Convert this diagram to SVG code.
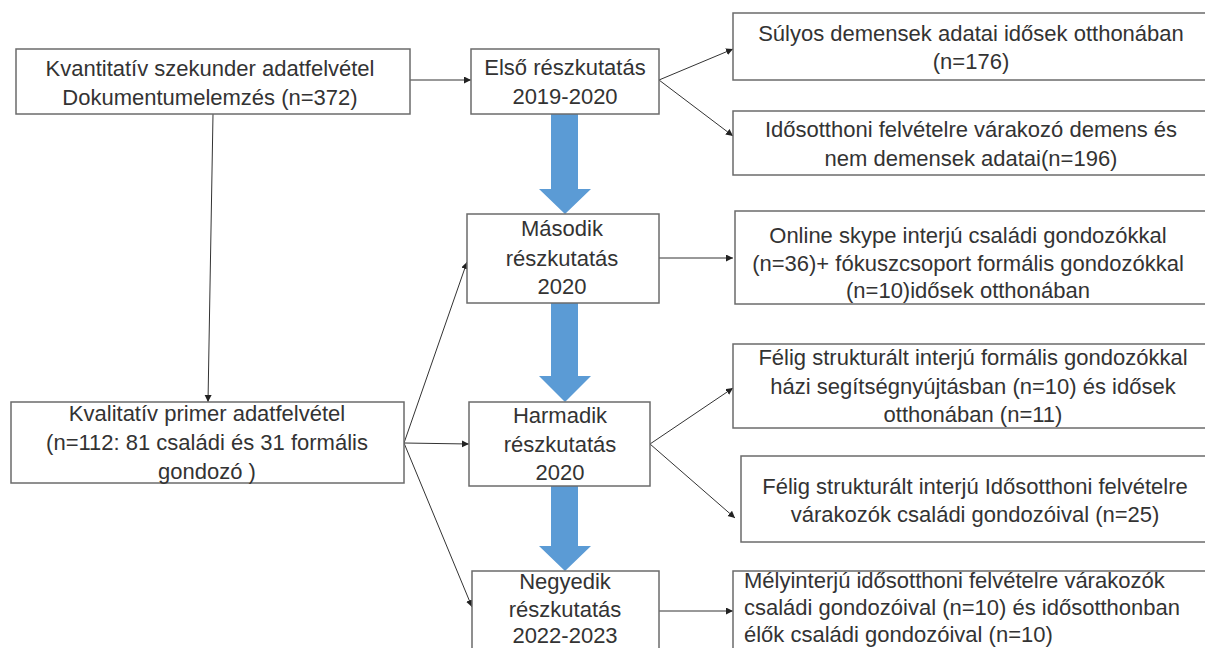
<svg xmlns="http://www.w3.org/2000/svg" width="1205" height="648" viewBox="0 0 1205 648">
<style>
.box{fill:#fff;stroke:#6b6b6b;stroke-width:1.5}
.t{font-family:"Liberation Sans",Arial,sans-serif;font-size:22px;fill:#333;text-anchor:middle}
.tl{text-anchor:start}
.c{stroke:#333;stroke-width:1;fill:none;marker-end:url(#ah)}
.big{fill:#5b9bd5}
</style>
<defs>
<marker id="ah" markerUnits="userSpaceOnUse" markerWidth="8" markerHeight="8" refX="7" refY="3.5" orient="auto">
<path d="M0,0 L7,3.5 L0,7 z" fill="#222"/>
</marker>
</defs>
<rect width="1205" height="648" fill="#fff"/>
<g id="connectors">
<path class="c" d="M410,80 L471,80"/>
<path class="c" d="M659,80 L733,49"/>
<path class="c" d="M659,80 L733,136"/>
<path class="c" d="M659,258 L733,258"/>
<path class="c" d="M650,444 L733,388"/>
<path class="c" d="M650,444 L735,518"/>
<path class="c" d="M659,611 L733,611"/>
<path class="c" d="M213,114 L208,402"/>
<path class="c" d="M404,443 L467,262"/>
<path class="c" d="M404,443 L469,444"/>
<path class="c" d="M404,443 L472,607"/>
<path class="big" d="M551,114 L578,114 L578,189 L591,189 L565,214 L539,189 L551,189 z"/>
<path class="big" d="M551,303 L578,303 L578,376 L591,376 L565,402 L539,376 L551,376 z"/>
<path class="big" d="M551,486 L578,486 L578,546 L591,546 L565,571 L539,546 L551,546 z"/>
</g>
<g id="kvantitativ">
<rect class="box" x="16" y="49" width="394" height="65"/>
<text class="t" x="210" y="76">Kvantitatív szekunder adatfelvétel</text>
<text class="t" x="210" y="105">Dokumentumelemzés (n=372)</text>
</g>
<g id="elso">
<rect class="box" x="471" y="49" width="188" height="65"/>
<text class="t" x="565" y="75">Első részkutatás</text>
<text class="t" x="565" y="104">2019-2020</text>
</g>
<g id="sulyos">
<rect class="box" x="733" y="13" width="480" height="67"/>
<text class="t" x="971" y="41">Súlyos demensek adatai idősek otthonában</text>
<text class="t" x="971" y="69">(n=176)</text>
</g>
<g id="idosotthoni">
<rect class="box" x="733" y="111" width="480" height="64"/>
<text class="t" x="971" y="137">Idősotthoni felvételre várakozó demens és</text>
<text class="t" x="971" y="166">nem demensek adatai(n=196)</text>
</g>
<g id="masodik">
<rect class="box" x="467" y="214" width="192" height="89"/>
<text class="t" x="562" y="236">Második</text>
<text class="t" x="562" y="266">részkutatás</text>
<text class="t" x="562" y="294">2020</text>
</g>
<g id="online">
<rect class="box" x="735" y="211" width="480" height="93"/>
<text class="t" x="968" y="243">Online skype interjú családi gondozókkal</text>
<text class="t" x="968" y="271">(n=36)+ fókuszcsoport formális gondozókkal</text>
<text class="t" x="968" y="298">(n=10)idősek otthonában</text>
</g>
<g id="kvalitativ">
<rect class="box" x="11" y="402" width="393" height="81"/>
<text class="t" x="207" y="421">Kvalitatív primer adatfelvétel</text>
<text class="t" x="207" y="450">(n=112: 81 családi és 31 formális</text>
<text class="t" x="207" y="479">gondozó )</text>
</g>
<g id="harmadik">
<rect class="box" x="469" y="402" width="181" height="84"/>
<text class="t" x="560" y="423">Harmadik</text>
<text class="t" x="560" y="452">részkutatás</text>
<text class="t" x="560" y="480">2020</text>
</g>
<g id="felig1">
<rect class="box" x="733" y="344" width="480" height="84"/>
<text class="t" x="973" y="365">Félig strukturált interjú formális gondozókkal</text>
<text class="t" x="973" y="394">házi segítségnyújtásban (n=10) és idősek</text>
<text class="t" x="973" y="422">otthonában (n=11)</text>
</g>
<g id="felig2">
<rect class="box" x="741" y="456" width="480" height="86"/>
<text class="t" x="975" y="494">Félig strukturált interjú Idősotthoni felvételre</text>
<text class="t" x="975" y="522">várakozók családi gondozóival (n=25)</text>
</g>
<g id="negyedik">
<rect class="box" x="472" y="571" width="187" height="90"/>
<text class="t" x="565" y="589">Negyedik</text>
<text class="t" x="565" y="617">részkutatás</text>
<text class="t" x="565" y="643">2022-2023</text>
</g>
<g id="melyinterju">
<rect class="box" x="733" y="571" width="480" height="90"/>
<text class="t tl" x="744" y="588">Mélyinterjú idősotthoni felvételre várakozók</text>
<text class="t tl" x="744" y="615">családi gondozóival (n=10) és idősotthonban</text>
<text class="t tl" x="744" y="642">élők családi gondozóival (n=10)</text>
</g>
</svg>
